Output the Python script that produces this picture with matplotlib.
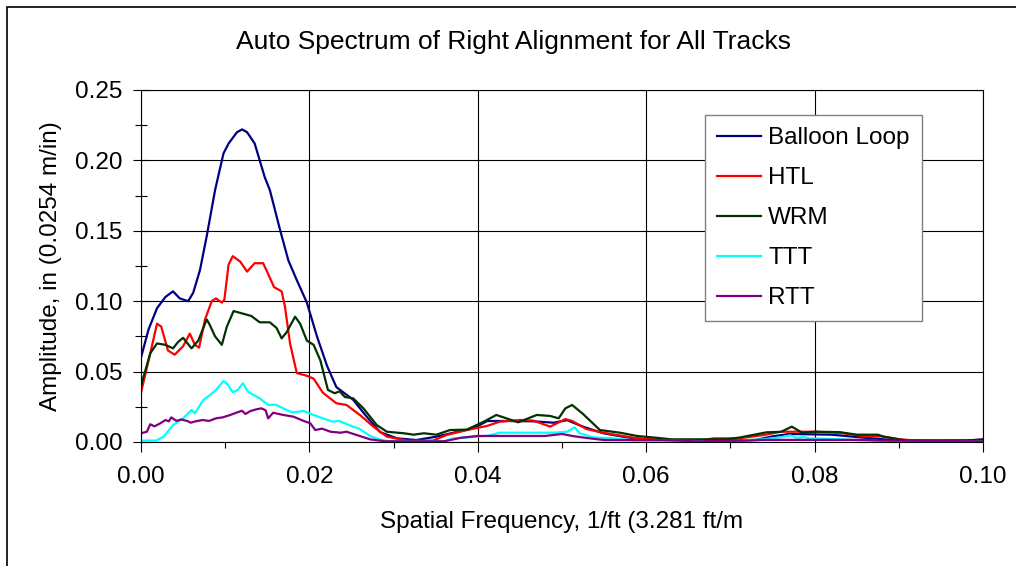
import matplotlib
matplotlib.use("Agg")
import matplotlib.pyplot as plt
from matplotlib.patches import Rectangle

plt.rcParams['font.family'] = ['Liberation Sans', 'DejaVu Sans']

# spatial frequency (1/ft) and amplitude (in) for each track
balloon_f = [0.0000, 0.0009, 0.0019, 0.0029, 0.0038, 0.0046, 0.0056, 0.0062, 0.0070, 0.0078,
             0.0088, 0.0098, 0.0104, 0.0114, 0.0120, 0.0126, 0.0135, 0.0141, 0.0147, 0.0153,
             0.0165, 0.0175, 0.0185, 0.0197, 0.0209, 0.0221, 0.0232, 0.0252, 0.0268, 0.0284,
             0.0304, 0.0327, 0.0351, 0.0371, 0.0395, 0.0411, 0.0434, 0.0466, 0.0490, 0.0506,
             0.0525, 0.0549, 0.0577, 0.0608, 0.0650, 0.0700, 0.0730, 0.0750, 0.0770, 0.0820,
             0.0860, 0.0900, 0.0950, 0.1000]
balloon_a = [0.060, 0.080, 0.095, 0.103, 0.107, 0.102, 0.100, 0.106, 0.122, 0.146,
             0.179, 0.205, 0.212, 0.220, 0.222, 0.220, 0.212, 0.200, 0.188, 0.179,
             0.151, 0.129, 0.115, 0.099, 0.075, 0.054, 0.039, 0.030, 0.018, 0.007,
             0.0026, 0.0014, 0.0038, 0.0066, 0.0097, 0.0149, 0.0149, 0.0147, 0.0137, 0.0155,
             0.0109, 0.0062, 0.0033, 0.0014, 0.0012, 0.0012, 0.0015, 0.0040, 0.0057, 0.0052,
             0.0030, 0.0010, 0.0010, 0.0012]

htl_f = [0.0000, 0.0011, 0.0019, 0.0024, 0.0032, 0.0040, 0.0050, 0.0058, 0.0064, 0.0069,
         0.0076, 0.0084, 0.0089, 0.0096, 0.0099, 0.0104, 0.0109, 0.0118, 0.0126, 0.0135,
         0.0145, 0.0149, 0.0158, 0.0167, 0.0171, 0.0177, 0.0185, 0.0197, 0.0205, 0.0216,
         0.0232, 0.0244, 0.0260, 0.0276, 0.0292, 0.0316, 0.0347, 0.0363, 0.0387, 0.0411,
         0.0426, 0.0450, 0.0466, 0.0486, 0.0504, 0.0512, 0.0529, 0.0549, 0.0589, 0.0620,
         0.0664, 0.0680, 0.0710, 0.0740, 0.0760, 0.0800, 0.0830, 0.0860, 0.0880, 0.0900,
         0.0920, 0.1000]
htl_a = [0.035, 0.063, 0.084, 0.082, 0.065, 0.062, 0.068, 0.077, 0.069, 0.067,
         0.087, 0.100, 0.102, 0.099, 0.101, 0.126, 0.132, 0.128, 0.121, 0.127,
         0.127, 0.122, 0.110, 0.107, 0.096, 0.070, 0.049, 0.047, 0.045, 0.035,
         0.0275, 0.0263, 0.0192, 0.0109, 0.0038, 0.0010, 0.0010, 0.0050, 0.0085, 0.0114,
         0.0144, 0.0156, 0.0152, 0.0109, 0.0163, 0.0150, 0.0092, 0.0066, 0.0026, 0.0014,
         0.0010, 0.0026, 0.0026, 0.0050, 0.0073, 0.0073, 0.0065, 0.0040, 0.0040, 0.0020,
         0.0010, 0.0010]

wrm_f = [0.0000, 0.0011, 0.0019, 0.0029, 0.0038, 0.0044, 0.0050, 0.0060, 0.0068, 0.0078,
         0.0081, 0.0088, 0.0096, 0.0102, 0.0110, 0.0122, 0.0131, 0.0141, 0.0153, 0.0161,
         0.0167, 0.0173, 0.0183, 0.0189, 0.0197, 0.0205, 0.0213, 0.0222, 0.0230, 0.0236,
         0.0242, 0.0252, 0.0264, 0.0280, 0.0292, 0.0312, 0.0324, 0.0336, 0.0351, 0.0367,
         0.0387, 0.0407, 0.0422, 0.0434, 0.0448, 0.0470, 0.0486, 0.0496, 0.0504, 0.0512,
         0.0525, 0.0545, 0.0569, 0.0589, 0.0612, 0.0630, 0.0696, 0.0712, 0.0743, 0.0760,
         0.0773, 0.0785, 0.0802, 0.0830, 0.0850, 0.0875, 0.0882, 0.0909, 0.0980, 0.1000]
wrm_a = [0.040, 0.063, 0.070, 0.069, 0.0665, 0.071, 0.074, 0.0665, 0.072, 0.087,
         0.084, 0.075, 0.069, 0.082, 0.093, 0.091, 0.0895, 0.085, 0.085, 0.081,
         0.0736, 0.078, 0.089, 0.084, 0.072, 0.069, 0.058, 0.037, 0.0346, 0.036,
         0.032, 0.031, 0.024, 0.012, 0.0073, 0.0062, 0.0052, 0.0062, 0.0052, 0.0085,
         0.0088, 0.0144, 0.0192, 0.0168, 0.0140, 0.0192, 0.0185, 0.0168, 0.0239, 0.0263,
         0.0199, 0.0085, 0.0066, 0.0043, 0.0030, 0.0019, 0.0019, 0.0033, 0.0069, 0.0072,
         0.0109, 0.0066, 0.0073, 0.0070, 0.0052, 0.0052, 0.0038, 0.0010, 0.0010, 0.0020]

ttt_f = [0.0000, 0.0018, 0.0027, 0.0038, 0.0050, 0.0060, 0.0064, 0.0074, 0.0082, 0.0089,
         0.0098, 0.0102, 0.0109, 0.0115, 0.0121, 0.0127, 0.0141, 0.0151, 0.0160, 0.0169,
         0.0179, 0.0193, 0.0205, 0.0216, 0.0228, 0.0235, 0.0252, 0.0259, 0.0272, 0.0283,
         0.0290, 0.0300, 0.0360, 0.0371, 0.0388, 0.0411, 0.0426, 0.0490, 0.0506, 0.0515,
         0.0521, 0.0537, 0.0560, 0.0585, 0.0700, 0.0740, 0.0759, 0.0771, 0.0779, 0.0787,
         0.0795, 0.0830, 0.0870, 0.1000]
ttt_a = [0.0010, 0.0010, 0.0038, 0.0120, 0.0168, 0.0227, 0.0204, 0.0298, 0.0334, 0.0369,
         0.0433, 0.0415, 0.0353, 0.0370, 0.0417, 0.0357, 0.0310, 0.0263, 0.0265, 0.0239,
         0.0210, 0.0220, 0.0192, 0.0168, 0.0144, 0.0150, 0.0109, 0.0095, 0.0043, 0.0019,
         0.0010, 0.0005, 0.0005, 0.0026, 0.0033, 0.0043, 0.0066, 0.0066, 0.0073, 0.0104,
         0.0062, 0.0033, 0.0026, 0.0010, 0.0005, 0.0020, 0.0033, 0.0047, 0.0030, 0.0035,
         0.0025, 0.0020, 0.0005, 0.0005]

rtt_f = [0.0000, 0.0007, 0.0011, 0.0016, 0.0023, 0.0029, 0.0033, 0.0036, 0.0042, 0.0048,
         0.0056, 0.0059, 0.0065, 0.0073, 0.0081, 0.0089, 0.0097, 0.0106, 0.0114, 0.0120,
         0.0124, 0.0130, 0.0137, 0.0143, 0.0148, 0.0151, 0.0157, 0.0169, 0.0181, 0.0193,
         0.0201, 0.0207, 0.0215, 0.0225, 0.0237, 0.0244, 0.0256, 0.0272, 0.0290, 0.0360,
         0.0380, 0.0400, 0.0480, 0.0500, 0.0512, 0.0530, 0.0550, 0.0620, 0.0660, 0.0720,
         0.0740, 0.0860, 0.0880, 0.1000]
rtt_a = [0.0062, 0.0073, 0.0126, 0.0111, 0.0133, 0.0156, 0.0147, 0.0175, 0.0150, 0.0160,
         0.0147, 0.0137, 0.0147, 0.0156, 0.0150, 0.0168, 0.0175, 0.0192, 0.0210, 0.0222,
         0.0199, 0.0220, 0.0232, 0.0239, 0.0225, 0.0168, 0.0208, 0.0192, 0.0180, 0.0150,
         0.0133, 0.0085, 0.0095, 0.0073, 0.0066, 0.0073, 0.0050, 0.0019, 0.0005, 0.0005,
         0.0030, 0.0043, 0.0043, 0.0057, 0.0043, 0.0028, 0.0014, 0.0014, 0.0005, 0.0010,
         0.0015, 0.0015, 0.0010, 0.0005]

x_ticks = [0.00, 0.02, 0.04, 0.06, 0.08, 0.10]
y_ticks = [0.00, 0.05, 0.10, 0.15, 0.20, 0.25]

W, H = 1016, 566
fs = 17.5
fig = plt.figure(figsize=(W / 100, H / 100), dpi=100)
fig.patch.set_facecolor('white')

# plot area in pixels: x 141..983, y 90..442 (from top)
ax = fig.add_axes([141 / W, 1 - 442 / H, (983 - 141) / W, (442 - 90) / H])

lw = 1.6
ax.plot(balloon_f, balloon_a, color='#000080', lw=lw, label='Balloon Loop')
ax.plot(htl_f, htl_a, color='#ff0000', lw=lw, label='HTL')
ax.plot(wrm_f, wrm_a, color='#003300', lw=lw, label='WRM')
ax.plot(ttt_f, ttt_a, color='#00ffff', lw=lw, label='TTT')
ax.plot(rtt_f, rtt_a, color='#800080', lw=lw, label='RTT')

ax.set_xlim(0, 0.1)
ax.set_ylim(0, 0.25)
ax.set_xticks(x_ticks)
ax.set_yticks(y_ticks)
ax.set_xticks([0.01, 0.03, 0.05, 0.07, 0.09], minor=True)
ax.set_yticks([0.025, 0.075, 0.125, 0.175, 0.225], minor=True)
ax.set_xticklabels([f"{v:.2f}" for v in x_ticks])
ax.set_yticklabels([f"{v:.2f}" for v in y_ticks])

ax.grid(True, which='major', color='black', lw=0.8)
ax.set_axisbelow(True)
for s in ax.spines.values():
    s.set_color('black')
    s.set_linewidth(0.8)

ax.tick_params(axis='y', which='major', direction='inout', length=11, width=0.8,
               pad=8, labelsize=fs)
ax.tick_params(axis='y', which='minor', direction='inout', length=9, width=0.8)
ax.tick_params(axis='x', which='major', direction='out', length=7.5, width=0.8,
               pad=10, labelsize=fs)
ax.tick_params(axis='x', which='minor', direction='out', length=4.5, width=0.8)

ax.set_xlabel('Spatial Frequency, 1/ft (3.281 ft/m', fontsize=fs, labelpad=16)
ax.set_ylabel('Amplitude, in (0.0254 m/in)', fontsize=fs, labelpad=9)

fig.text(514 / W, 1 - 42 / H, 'Auto Spectrum of Right Alignment for All Tracks',
         fontsize=19, ha='center', va='center')

leg = ax.legend(loc='upper left', bbox_to_anchor=(705 / W, 1 - 115 / H),
                bbox_transform=fig.transFigure, borderaxespad=0, fontsize=fs,
                handlelength=1.8, handletextpad=0.3, labelspacing=0.74,
                borderpad=0.5, fancybox=False, framealpha=1)
leg.get_frame().set_edgecolor('#808080')
leg.get_frame().set_linewidth(1)

# outer chart border
fig.patches.append(Rectangle((7 / W, -0.05), 1.2, 1.05 - 6.5 / H, transform=fig.transFigure,
                             fill=False, edgecolor='black', lw=1.2))

fig.savefig('out.png', dpi=100)
